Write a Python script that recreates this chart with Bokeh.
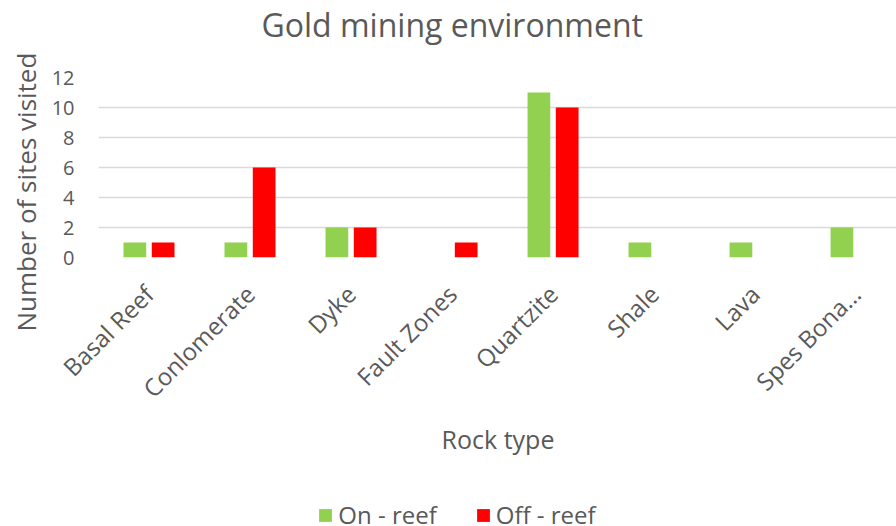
from bokeh.plotting import figure
from bokeh.models import Range1d, FixedTicker, Legend, LegendItem, ColumnDataSource, Title
from bokeh.layouts import column
from bokeh.embed import file_html
from bokeh.resources import INLINE

categories = ["Basal Reef", "Conlomerate", "Dyke", "Fault Zones", "Quartzite", "Shale", "Lava", "Spes Bona…"]
on_reef = [1, 1, 2, 0, 11, 1, 1, 2]
off_reef = [1, 6, 2, 1, 10, 0, 0, 0]
y_ticks = [0, 2, 4, 6, 8, 10, 12]

FONT = "Open Sans"
TXT = "#595959"
GREEN = "#92D050"
RED = "#FF0000"

centers = [i + 0.5 for i in range(len(categories))]
src = ColumnDataSource(dict(
    x_on=[c - 0.14 for c in centers],
    x_off=[c + 0.14 for c in centers],
    on=on_reef, off=off_reef,
))

# title strip
tp = figure(frame_width=799, frame_height=1, output_backend="svg", toolbar_location=None,
            x_axis_type=None, y_axis_type=None,
            min_border_left=97, min_border_right=0, min_border_top=0, min_border_bottom=0)
tp.outline_line_color = None
tp.title.text = "Gold mining environment"
tp.title.align = "left"
tp.title.offset = 163
tp.title.text_font = FONT
tp.title.text_font_size = "32px"
tp.title.text_font_style = "normal"
tp.title.text_color = TXT
tp.title.standoff = 0

p = figure(frame_width=799, frame_height=180, output_backend="svg", toolbar_location=None,
           x_range=Range1d(0, 7.91), y_range=Range1d(0, 12),
           min_border_left=97, min_border_right=0, min_border_top=31, min_border_bottom=222)
p.outline_line_color = None

p.vbar(x="x_on", top="on", width=0.225, source=src, fill_color=GREEN, line_color=None)
p.vbar(x="x_off", top="off", width=0.225, source=src, fill_color=RED, line_color=None)

p.xgrid.grid_line_color = None
p.ygrid.grid_line_color = "#D9D9D9"
p.ygrid.grid_line_width = 1.5
p.yaxis.ticker = FixedTicker(ticks=y_ticks)
p.xaxis.ticker = FixedTicker(ticks=centers)
p.xaxis.major_label_overrides = {c: lab for c, lab in zip(centers, categories)}
p.xaxis.major_label_orientation = 0.785398

for ax in (p.xaxis[0], p.yaxis[0]):
    ax.axis_line_color = None
    ax.major_tick_line_color = None
    ax.minor_tick_line_color = None
    ax.major_tick_out = 0
    ax.minor_tick_out = 0
    ax.major_label_text_font = FONT
    ax.major_label_text_color = TXT
    ax.axis_label_text_font = FONT
    ax.axis_label_text_color = TXT
    ax.axis_label_text_font_style = "normal"

p.yaxis.major_label_text_font_size = "20px"
p.yaxis.major_label_standoff = 24

ytitle = Title(text="Number of sites visited", align="left", offset=-74,
               vertical_align="bottom", standoff=10, text_font=FONT,
               text_font_size="26px", text_font_style="normal", text_color=TXT)
p.add_layout(ytitle, "left")

p.xaxis.major_label_text_font_size = "24px"
p.xaxis.major_label_standoff = 32
p.xaxis.axis_label = "Rock type"
p.xaxis.axis_label_text_font_size = "25px"
p.xaxis.axis_label_standoff = 3

# legend strip (its bars fall outside its view; only the legend shows)
lg = figure(frame_width=799, frame_height=46, output_backend="svg", toolbar_location=None,
            x_axis_type=None, y_axis_type=None, x_range=Range1d(-101, -100), y_range=Range1d(100, 101),
            min_border_left=97, min_border_right=0, min_border_top=0, min_border_bottom=0)
lg.outline_line_color = None
g_on = lg.vbar(x="x_on", top="on", width=0.225, source=src, fill_color=GREEN, line_color=None)
g_off = lg.vbar(x="x_off", top="off", width=0.225, source=src, fill_color=RED, line_color=None)
legend = Legend(items=[LegendItem(label="On - reef", renderers=[g_on]),
                       LegendItem(label="Off - reef", renderers=[g_off])],
                orientation="horizontal", location=(285, -6),
                label_text_font=FONT, label_text_font_size="24px", label_text_color=TXT,
                glyph_width=16, glyph_height=16, spacing=38, label_standoff=5,
                border_line_color=None, background_fill_alpha=0, margin=0, padding=0)
lg.add_layout(legend, "center")

layout = column(tp, p, lg, spacing=0)
open("out.html", "w").write(file_html(layout, INLINE))
